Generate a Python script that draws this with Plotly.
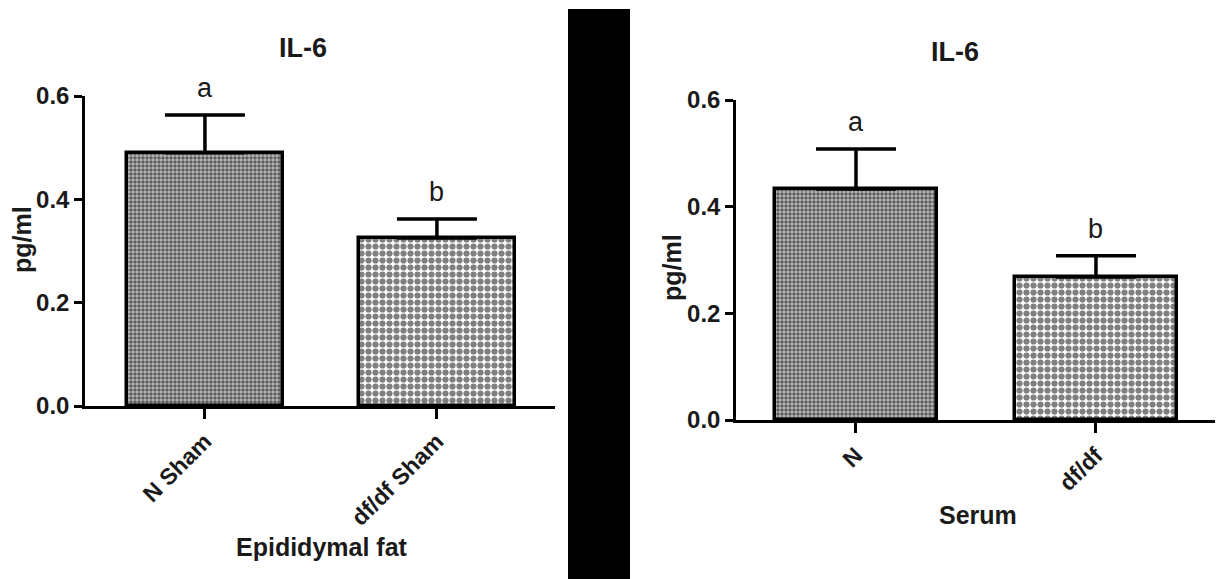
import plotly.graph_objects as go

# ---- data ----
left_categories = ["N Sham", "df/df Sham"]
left_means = [0.490, 0.325]
left_sem = [0.073, 0.037]
left_letters = ["a", "b"]

right_categories = ["N", "df/df"]
right_means = [0.433, 0.268]
right_sem = [0.075, 0.040]
right_letters = ["a", "b"]

panel_title = "IL-6"
y_title = "pg/ml"
left_x_title = "Epididymal fat"
right_x_title = "Serum"
y_ticks = [0.0, 0.2, 0.4, 0.6]
y_ticktext = ["0.0", "0.2", "0.4", "0.6"]

W, H = 1221, 579
FONT = "Liberation Sans, Arial, sans-serif"
TXT = "#1a1a1a"

patterns = [dict(shape=".", size=4, solidity=0.6, fgcolor="black", bgcolor="#bcbcbc"),
            dict(shape=".", size=7, solidity=0.62, fgcolor="black", bgcolor="white")]

fig = go.Figure()


def add_panel(cats, means, sems, xa, ya, width):
    for i, (c, m, s) in enumerate(zip(cats, means, sems)):
        fig.add_trace(go.Bar(
            x=[c], y=[m], width=width, xaxis=xa, yaxis=ya,
            marker=dict(color="white", line=dict(color="black", width=3.5),
                        pattern=patterns[i]),
            error_y=dict(type="data", array=[s], arrayminus=[0], symmetric=False,
                         thickness=3.5, width=40, color="black"),
            showlegend=False, cliponaxis=False,
        ))


add_panel(left_categories, left_means, left_sem, "x", "y", 0.67)
add_panel(right_categories, right_means, right_sem, "x2", "y2", 0.675)

common_x = dict(type="category", showline=True, linecolor="black", linewidth=2.5,
                ticks="outside", ticklen=10, tickwidth=2.5, tickcolor="black",
                tickangle=-45, showgrid=False, zeroline=False, automargin=False,
                tickfont=dict(family=FONT, size=23, color=TXT, weight="bold"), fixedrange=True)
common_y = dict(range=[0, 0.6], showline=True, linecolor="black", linewidth=2.5,
                ticks="outside", ticklen=8, tickwidth=2.5, tickcolor="black",
                tickvals=y_ticks, ticktext=y_ticktext, showgrid=False, zeroline=False,
                automargin=False,
                tickfont=dict(family=FONT, size=24, color=TXT, weight="bold"), fixedrange=True)

fig.update_layout(
    width=W, height=H, margin=dict(l=0, r=0, t=0, b=0, pad=0, autoexpand=False),
    paper_bgcolor="white", plot_bgcolor="white", bargap=0,
    xaxis=dict(common_x, domain=[85 / W, 555 / W], range=[-0.517, 1.509], anchor="y"),
    yaxis=dict(common_y, domain=[1 - 406 / H, 1 - 96 / H], anchor="x"),
    xaxis2=dict(common_x, domain=[736 / W, 1215 / W], range=[-0.5, 1.496], anchor="y2"),
    yaxis2=dict(common_y, domain=[1 - 420 / H, 1 - 100 / H], anchor="x2"),
)

annotations = []
for cats, means, sems, letters, xr, yr in [
        (left_categories, left_means, left_sem, left_letters, "x", "y"),
        (right_categories, right_means, right_sem, right_letters, "x2", "y2")]:
    for c, m, s, l in zip(cats, means, sems, letters):
        annotations.append(dict(x=c, y=m + s, xref=xr, yref=yr, text=l, showarrow=False,
                                xanchor="center", yanchor="bottom", yshift=10,
                                font=dict(family=FONT, size=27, color=TXT)))


def label(x, y, text, size, angle=0):
    return dict(x=x / W, y=1 - y / H, xref="paper", yref="paper", text=text,
                showarrow=False, xanchor="center", yanchor="middle", textangle=angle,
                font=dict(family=FONT, size=size, color=TXT, weight="bold"))


annotations += [
    label(303, 48, panel_title, 27),
    label(955, 52, panel_title, 27),
    label(322, 547, left_x_title, 25),
    label(978, 515, right_x_title, 25),
    label(22, 240, y_title, 25, -90),
    label(672, 268, y_title, 25, -90),
]
fig.update_layout(annotations=annotations)

# black separator block
fig.add_shape(type="rect", xref="paper", yref="paper", x0=568 / W, x1=630 / W,
              y0=0, y1=1 - 9 / H, fillcolor="black", line=dict(width=0), layer="above")

fig.write_html("out.html", config={"displayModeBar": False},
               post_script="document.body.style.margin='0px';document.body.style.overflow='hidden';")
